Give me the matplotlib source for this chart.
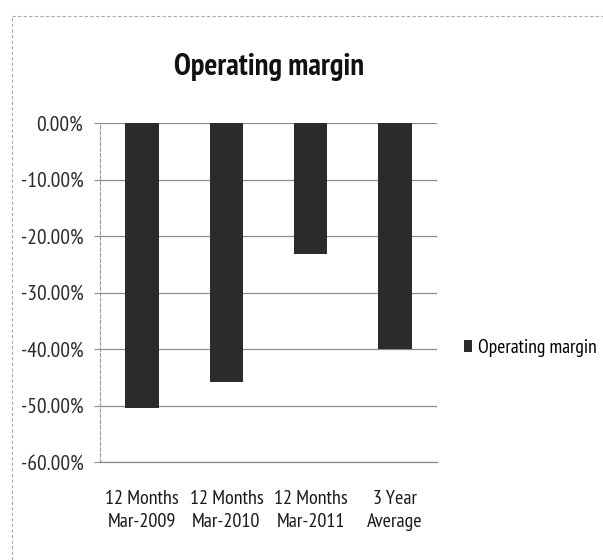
import matplotlib
matplotlib.use("Agg")
import matplotlib.pyplot as plt
from matplotlib.lines import Line2D
from matplotlib.patches import Patch
from matplotlib.ticker import FuncFormatter

categories = ["12 Months\nMar-2009", "12 Months\nMar-2010", "12 Months\nMar-2011", "3 Year\nAverage"]
operating_margin = [-50.5, -45.8, -23.2, -40.0]
series_name = "Operating margin"
title = "Operating margin"
yticks = [0, -10, -20, -30, -40, -50, -60]

plt.rcParams['font.family'] = ['PT Sans Narrow', 'DejaVu Sans']

fig = plt.figure(figsize=(6.03, 5.6), dpi=100)
fig.patch.set_facecolor("white")

# dashed outer chart frame (top and left edges visible)
fig.add_artist(Line2D([12/603, 1.0], [1 - 16/560, 1 - 16/560], transform=fig.transFigure,
                      color="#aaaaaa", lw=0.8, ls=(0, (3, 2))))
fig.add_artist(Line2D([12/603, 12/603], [0.0, 1 - 16/560], transform=fig.transFigure,
                      color="#aaaaaa", lw=0.8, ls=(0, (3, 2))))

ax = fig.add_axes([100/603, 1 - 462/560, 337/603, 339/560])
x = range(len(categories))
ax.bar(x, operating_margin, width=0.4, color="#2b2b2b", zorder=3)

ax.set_xlim(-0.5, 3.5)
ax.set_ylim(-60, 0)
ax.set_yticks(yticks)
ax.yaxis.set_major_formatter(FuncFormatter(lambda v, _: f"{v:.2f}%"))
ax.grid(axis="y", color="#8c8c8c", lw=0.9, zorder=1)
ax.set_xticks(list(x))
ax.set_xticklabels(categories, fontsize=14.5, color="#1a1a1a", linespacing=1.4)
ax.tick_params(axis="x", length=0, pad=20)
ax.tick_params(axis="y", length=4, color="#8c8c8c", labelsize=15.5, labelcolor="#2a2a2a", pad=8)

for s in ["top", "right"]:
    ax.spines[s].set_visible(False)
ax.spines["bottom"].set_color("#8c8c8c")
ax.spines["bottom"].set_linewidth(0.9)
ax.spines["left"].set_color("#999999")
ax.spines["left"].set_linestyle((0, (3, 2)))
ax.spines["left"].set_linewidth(0.8)

fig.text(269/603, 1 - 67/560, title, ha="center", va="center", fontsize=22,
         color="#111111", fontweight="bold")

fig.legend(handles=[Patch(facecolor="#2b2b2b", label=series_name)], loc="center left",
           bbox_to_anchor=(464/603, 1 - 348/560), frameon=False, fontsize=14,
           handlelength=0.4, handleheight=0.55, handletextpad=0.3,
           borderpad=0, borderaxespad=0)

fig.savefig("out.png", dpi=100, facecolor="white")
